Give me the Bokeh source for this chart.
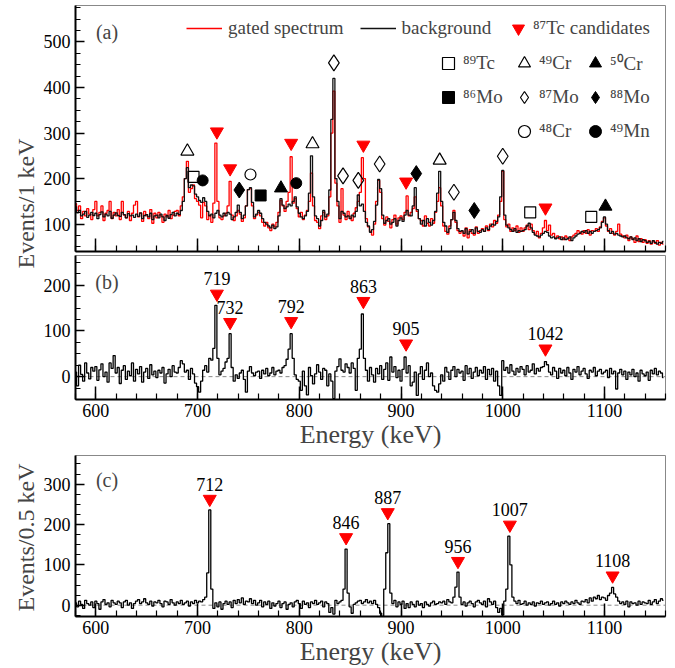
import numpy as np
from bokeh.plotting import figure
from bokeh.models import (Range1d, SingleIntervalTicker, Legend, LegendItem, Label,
                          Span, ColumnDataSource, CustomLabelingPolicy)
from bokeh.layouts import column, row
from bokeh.core.properties import value
from bokeh.embed import file_html
from bokeh.resources import INLINE

FONT = "Liberation Serif"

# ---------------- data (2 keV bins, centres 580 ... 1158 keV) ----------------
energy = [580 + 2 * i for i in range(290)]

background = [
    138, 125, 130, 118, 122, 128, 115, 120, 126, 119,
    124, 112, 121, 127, 116, 122, 118, 128, 113, 120,
    125, 119, 117, 126, 121, 114, 123, 118, 120, 115,
    122, 117, 125, 112, 119, 121, 116, 124, 110, 118,
    120, 114, 122, 116, 108, 119, 113, 121, 126, 118,
    124, 121, 130, 150, 200, 224, 180, 186, 184, 166,
    160, 152, 148, 158, 150, 128, 118, 122, 114, 124,
    130, 120, 116, 124, 118, 126, 122, 110, 116, 126,
    142, 126, 112, 120, 140, 176, 180, 148, 116, 122,
    130, 124, 112, 104, 100, 96, 92, 98, 90, 94,
    118, 156, 142, 134, 138, 144, 140, 150, 160, 138,
    124, 116, 112, 118, 128, 168, 250, 160, 118, 112,
    96, 108, 130, 116, 122, 175, 330, 420, 200, 150,
    112, 128, 124, 116, 118, 112, 120, 116, 128, 164,
    140, 144, 128, 104, 96, 82, 88, 106, 142, 198,
    178, 120, 102, 108, 112, 100, 104, 112, 96, 108,
    114, 106, 120, 130, 120, 118, 140, 180, 132, 112,
    100, 108, 96, 112, 104, 98, 108, 128, 168, 216,
    150, 104, 96, 82, 90, 110, 126, 108, 90, 84,
    86, 80, 90, 78, 84, 88, 80, 92, 84, 82,
    88, 84, 92, 88, 96, 100, 98, 106, 116, 160,
    218, 120, 98, 92, 88, 84, 90, 82, 86, 84,
    86, 88, 96, 102, 92, 82, 76, 74, 72, 76,
    80, 84, 82, 74, 70, 72, 68, 70, 72, 66,
    70, 66, 68, 72, 64, 70, 74, 78, 80, 84,
    82, 86, 80, 84, 80, 84, 86, 88, 92, 104,
    116, 100, 86, 80, 84, 78, 80, 76, 74, 72,
    74, 70, 68, 72, 66, 70, 64, 68, 62, 66,
    64, 60, 62, 58, 64, 60, 56, 60, 58, 62,
]

gated = [
    145, 130, 140, 112, 128, 118, 134, 122, 110, 132,
    150, 118, 126, 140, 108, 124, 130, 150, 112, 126,
    118, 132, 110, 150, 120, 114, 128, 108, 124, 142,
    150, 116, 124, 106, 128, 118, 112, 132, 102, 124,
    114, 126, 118, 104, 122, 116, 130, 112, 120, 128,
    130, 118, 140, 160, 200, 238, 170, 178, 186, 156,
    150, 142, 114, 148, 140, 110, 120, 104, 146, 278,
    150, 114, 110, 118, 124, 140, 194, 120, 108, 118,
    130, 122, 106, 114, 140, 176, 178, 140, 112, 120,
    126, 118, 104, 96, 104, 92, 86, 100, 94, 104,
    126, 152, 140, 128, 150, 170, 248, 146, 156, 134,
    116, 126, 110, 120, 130, 150, 212, 140, 108, 104,
    90, 118, 126, 110, 118, 160, 300, 392, 190, 140,
    104, 178, 120, 110, 128, 116, 108, 124, 136, 150,
    170, 246, 200, 112, 94, 84, 76, 100, 150, 196,
    170, 112, 98, 116, 106, 92, 110, 120, 100, 114,
    118, 110, 126, 162, 118, 126, 134, 160, 128, 112,
    108, 96, 118, 102, 96, 112, 102, 126, 150, 180,
    140, 96, 84, 78, 96, 110, 130, 104, 86, 80,
    84, 74, 92, 70, 88, 80, 76, 94, 80, 86,
    90, 84, 96, 86, 100, 94, 108, 102, 120, 150,
    216, 110, 94, 100, 84, 92, 86, 96, 82, 92,
    84, 92, 98, 88, 100, 86, 78, 84, 70, 80,
    92, 108, 86, 98, 76, 80, 70, 74, 68, 72,
    66, 74, 70, 64, 72, 76, 80, 86, 82, 78,
    86, 80, 88, 76, 86, 84, 90, 84, 94, 106,
    114, 96, 84, 90, 80, 76, 84, 100, 78, 74,
    70, 76, 64, 72, 68, 60, 74, 62, 68, 60,
    66, 58, 64, 56, 62, 58, 64, 54, 60, 56,
]

subtracted = [
    10, -20, 25, 5, -10, 30, 8, -5, 20, 12,
    22, -8, 15, 28, 0, 10, -12, 30, 18, 46,
    8, 20, -15, 14, 24, -6, 12, 2, 30, -10,
    16, 6, 22, -12, 10, 18, -4, 26, 4, 12,
    -2, 14, 8, 20, -14, 6, 16, 0, 24, 10,
    8, 20, 35, 28, 10, 14, -6, 18, 6, -14,
    -22, -34, -10, 14, 24, 10, 40, 36, 62, 156,
    40, 4, 12, 18, 32, 40, 94, 20, -10, 4,
    -4, 8, 14, -6, -34, 12, 22, 8, 2, 10,
    12, -4, 14, 6, 18, 2, 8, 20, 4, 12,
    14, 8, 20, 24, 38, 60, 94, 40, 4, -6,
    -10, -30, 12, -20, -40, 20, 2, -16, 6, 26,
    10, -6, 18, 14, -20, 6, -10, -48, 12, 22,
    39, 14, 10, 28, 20, 8, 30, 18, -30, 40,
    60, 137, 40, 14, -10, 20, 4, -12, 18, 6,
    24, -6, 16, 30, -8, 43, 10, 22, -2, 14,
    -10, 16, 43, 8, 24, -20, -12, 10, -41, 6,
    22, -6, 14, 30, 0, 8, -20, -30, -34, -16,
    4, -10, 20, 10, -6, 14, 22, 0, 16, 8,
    12, -8, 24, 6, 18, -4, 10, 20, 2, 14,
    8, 22, -6, 16, 4, 18, -10, 12, -20, -41,
    35, 14, 20, 8, 26, 12, 4, 18, 10, 22,
    16, 4, 24, 10, 14, 28, 6, 18, 12, 20,
    22, 33, 26, 10, 4, 20, 12, -4, 18, 8,
    14, 2, 20, 8, -6, 16, 10, 22, 4, 12,
    18, 6, -4, 14, 10, 20, 2, 12, 16, 6,
    10, 14, -2, 18, 6, 12, -27, 8, 16, 4,
    12, -6, 10, 4, 16, 0, 8, -10, 14, 6,
    2, 10, -8, 14, 6, 18, 4, 12, 8, -2,
]

spectrum_c = [
    6, -4, 10, 2, -8, 12, 4, 0, 8, -6,
    10, 4, -10, 8, 14, 2, 6, -4, 12, 6,
    2, 10, 6, -6, 8, 12, 0, 6, -8, 4,
    10, 14, 4, 8, 16, 6, 2, 10, -2, 8,
    6, 12, 4, -4, 10, 8, 2, 14, 6, 0,
    8, 4, 12, 2, 6, 10, -2, 8, 4, 12,
    6, 10, 8, 14, 20, 80, 236, 40, -8, 6,
    -4, 8, -10, 4, 10, 2, 8, -6, 12, 4,
    14, 6, 18, 2, 10, 8, 16, 4, 12, 0,
    6, 12, -4, 8, 2, 10, -8, 6, -2, 4,
    10, -6, 4, 8, -10, 2, 6, -4, 8, 12,
    4, -8, 10, 2, 6, -6, 8, 4, 12, 2,
    6, 10, -4, 8, 4, -18, -6, -22, 12, 4,
    8, 12, 40, 139, 30, -4, -20, 2, 6, 10,
    12, 4, 8, 14, 6, 10, 4, 12, 2, -6,
    -20, -28, 40, 130, 202, 30, 4, 12, -4, 8,
    2, 10, -8, 4, -6, 8, 2, -4, 10, 0,
    4, -6, 8, 2, -2, 6, 10, 2, 4, 8,
    6, 10, 2, 14, 8, 6, 20, 45, 82, 20,
    2, 8, -2, 6, 10, 4, -4, 8, 12, 6,
    2, 10, -4, 16, 8, 2, 10, -6, -18, -8,
    -24, 10, 40, 171, 100, 20, 10, 4, 12, 2,
    4, 10, 0, 6, 2, 8, -2, 6, 4, 10,
    2, 6, 8, 0, 4, 10, 2, 6, -2, 8,
    4, 10, 6, 2, 8, 4, 12, 6, 2, 10,
    8, 14, 6, 18, 10, 20, 16, 24, 14, 20,
    18, 12, 24, 30, 44, 28, 20, 10, 4, 8,
    2, 10, -4, 8, 4, 6, 0, 10, 2, 8,
    6, 4, 12, 2, 8, 14, 4, 10, 16, 12,
]

# 87Tc candidates
tc87_b_energy = [719, 732, 792, 863, 905, 1042]
tc87_a_mark = [303, 222, 278, 274, 193, 136]
tc87_b_mark = [181, 119, 121, 165, 72, 61]
tc87_c_energy = [712, 846, 887, 956, 1007, 1108]
tc87_c_mark = [263, 168, 230, 109, 199, 73]

# contaminant lines in panel (a)
cr49_e, cr49_y = [690, 813, 938], [260, 276, 240]
tc89_e, tc89_y = [696, 1027, 1087], [204, 126, 116]
mn49_e, mn49_y = [705, 797], [196, 190]
mo88_e, mo88_y = [741, 915, 972], [175, 211, 130]
cr48_e, cr48_y = [752], [209]
mo86_e, mo86_y = [762], [163]
cr50_e, cr50_y = [782, 1101], [179, 139]
mo87_e, mo87_y = [834, 843, 858, 879, 952, 1000], [454, 206, 196, 232, 170, 249]

# ---------------- figures ----------------
x_range = Range1d(580, 1160)


def make_fig(height, yr, top, bottom, labels=True):
    p = figure(width=637, height=height, x_range=x_range, y_range=yr,
               output_backend="svg", toolbar_location=None,
               min_border_left=37, min_border_right=10,
               min_border_top=top, min_border_bottom=bottom)
    p.xgrid.visible = False
    p.ygrid.visible = False
    p.outline_line_color = "#888888"
    p.outline_line_width = 1
    p.background_fill_color = "white"
    p.border_fill_color = "white"
    p.xaxis.ticker = SingleIntervalTicker(interval=100, num_minor_ticks=5)
    p.yaxis.ticker = SingleIntervalTicker(interval=100, num_minor_ticks=4)
    for ax in (p.xaxis, p.yaxis):
        ax.axis_line_width = 2
        ax.axis_line_color = "black"
        ax.major_tick_out = 0
        ax.minor_tick_out = 0
        ax.major_tick_line_width = 1.5
        ax.minor_tick_line_width = 1.2
        ax.major_tick_line_color = "black"
        ax.minor_tick_line_color = "black"
        ax.major_label_text_font = FONT
        ax.major_label_text_font_size = "18px"
        ax.major_label_text_color = "black"
    p.xaxis.major_tick_in = 13
    p.xaxis.minor_tick_in = 6
    p.yaxis.major_tick_in = 9
    p.yaxis.minor_tick_in = 5
    p.yaxis.major_label_standoff = 5
    if labels:
        p.xaxis.major_label_standoff = 4
        p.xaxis.axis_label = "Energy (keV)"
        p.xaxis.axis_label_text_font = FONT
        p.xaxis.axis_label_text_font_size = "26px"
        p.xaxis.axis_label_text_font_style = "normal"
        p.xaxis.axis_label_standoff = 0
    else:
        p.xaxis.major_label_text_font_size = "1px"
        p.xaxis.major_label_standoff = 0
        p.xaxis.major_label_policy = CustomLabelingPolicy(code="return []")
    return p


# ---- panel (a)
pa = make_fig(255, Range1d(40, 580), 5, 0, labels=False)
r_red = pa.step(energy, gated, mode="center", line_color="#ff0000", line_width=1.3)
r_blk = pa.step(energy, background, mode="center", line_color="#111111", line_width=1.3)

r_tc87a = pa.scatter(tc87_b_energy, tc87_a_mark, marker="inverted_triangle", size=13,
                     fill_color="#ff0000", line_color="#ff0000")
open_kw = dict(fill_color=None, line_color="black", line_width=1.2)
full_kw = dict(fill_color="black", line_color="black", line_width=1)
r_tc89 = pa.scatter(tc89_e, tc89_y, marker="square", size=11, **open_kw)
r_mo86 = pa.scatter(mo86_e, mo86_y, marker="square", size=11, **full_kw)
r_cr49 = pa.scatter(cr49_e, cr49_y, marker="triangle", size=13, **open_kw)
r_mo87 = pa.scatter(mo87_e, mo87_y, marker="diamond", size=16, **open_kw)
r_cr48 = pa.scatter(cr48_e, cr48_y, marker="circle", size=11, **open_kw)
r_cr50 = pa.scatter(cr50_e, cr50_y, marker="triangle", size=13, **full_kw)
r_mo88 = pa.scatter(mo88_e, mo88_y, marker="diamond", size=16, **full_kw)
r_mn49 = pa.scatter(mn49_e, mn49_y, marker="circle", size=11, **full_kw)

leg_common = dict(border_line_color=None, background_fill_alpha=0, padding=0, margin=0,
                  label_text_font=FONT, label_text_font_size="19px",
                  label_height=22, glyph_height=30)

leg1 = Legend(items=[LegendItem(label="gated spectrum", renderers=[r_red]),
                     LegendItem(label="background", renderers=[r_blk])],
              orientation="horizontal", location=(111, 208), glyph_width=36,
              label_standoff=6, spacing=16, **leg_common)
leg2 = Legend(items=[LegendItem(label="\u2078\u2077Tc candidates", renderers=[r_tc87a])],
              orientation="horizontal", location=(428, 208), glyph_width=30,
              label_standoff=-5, **leg_common)
leg3 = Legend(items=[LegendItem(label="\u2078\u2079Tc", renderers=[r_tc89]),
                     LegendItem(label="\u2078\u2076Mo", renderers=[r_mo86])],
              location=(358, 139), glyph_width=30, label_standoff=-5, spacing=4,
              **leg_common)
leg4 = Legend(items=[LegendItem(label="\u2074\u2079Cr", renderers=[r_cr49]),
                     LegendItem(label="\u2078\u2077Mo", renderers=[r_mo87]),
                     LegendItem(label="\u2074\u2078Cr", renderers=[r_cr48])],
              location=(434, 105), glyph_width=30, label_standoff=-5, spacing=4,
              **leg_common)
leg5 = Legend(items=[LegendItem(label="\u2075\u2070Cr", renderers=[r_cr50]),
                     LegendItem(label="\u2078\u2078Mo", renderers=[r_mo88]),
                     LegendItem(label="\u2074\u2079Mn", renderers=[r_mn49])],
              location=(505, 105), glyph_width=30, label_standoff=-5, spacing=4,
              **leg_common)
for lg in (leg1, leg2, leg3, leg4, leg5):
    pa.add_layout(lg)

pa.add_layout(Label(x=611, y=522, text="(a)", text_align="center", text_baseline="middle",
                    text_font=FONT, text_font_size="20px"))

# ---- panel (b)
pb = make_fig(200, Range1d(-50, 265), 0, 56)
pb.add_layout(Span(location=0, dimension="width", line_color="#888888",
                   line_dash="4 3", line_width=1, level="underlay"))
pb.step(energy, subtracted, mode="center", line_color="black", line_width=1.3)
pb.scatter(tc87_b_energy, tc87_b_mark, marker="inverted_triangle", size=13,
           fill_color="#ff0000", line_color="#ff0000")
src_b = ColumnDataSource(dict(x=tc87_b_energy, y=tc87_b_mark,
                              t=[str(e) for e in tc87_b_energy]))
pb.text(x="x", y="y", text="t", source=src_b, y_offset=-15, text_align="center",
        text_baseline="middle", text_font=value(FONT), text_font_size="18px",
        text_color="black")
pb.add_layout(Label(x=611, y=207, text="(b)", text_align="center", text_baseline="middle",
                    text_font=FONT, text_font_size="20px"))

# ---- panel (c)
pc = make_fig(213, Range1d(-28, 371), 0, 45)
pc.add_layout(Span(location=0, dimension="width", line_color="#888888",
                   line_dash="4 3", line_width=1, level="underlay"))
pc.step(energy, spectrum_c, mode="center", line_color="black", line_width=1.3)
pc.scatter(tc87_c_energy, tc87_c_mark, marker="inverted_triangle", size=13,
           fill_color="#ff0000", line_color="#ff0000")
src_c = ColumnDataSource(dict(x=tc87_c_energy, y=tc87_c_mark,
                              t=[str(e) for e in tc87_c_energy]))
pc.text(x="x", y="y", text="t", source=src_c, y_offset=-15, text_align="center",
        text_baseline="middle", text_font=value(FONT), text_font_size="18px",
        text_color="black")
pc.add_layout(Label(x=611, y=311, text="(c)", text_align="center", text_baseline="middle",
                    text_font=FONT, text_font_size="20px"))

# ---- side titles (one narrow strip spanning the full height)
side = figure(width=38, height=668, x_range=Range1d(0, 38), y_range=Range1d(0, 668),
              output_backend="svg", toolbar_location=None, min_border=0,
              x_axis_location=None, y_axis_location=None)
side.outline_line_color = None
side.grid.visible = False
side.add_layout(Label(x=25, y=465, text="Events/1 keV", angle=np.pi / 2,
                      text_align="center", text_baseline="middle",
                      text_font=FONT, text_font_size="24px"))
side.add_layout(Label(x=25, y=131, text="Events/0.5 keV", angle=np.pi / 2,
                      text_align="center", text_baseline="middle",
                      text_font=FONT, text_font_size="24px"))

layout = row(side, column(pa, pb, pc))

open("out.html", "w").write(file_html(layout, INLINE))
